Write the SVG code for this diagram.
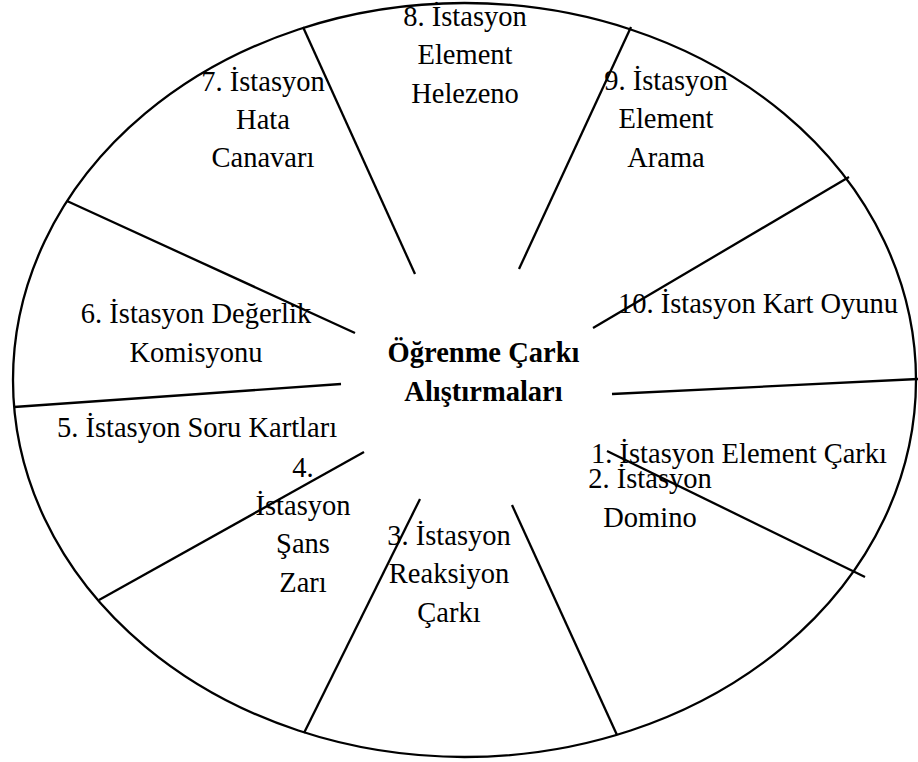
<svg xmlns="http://www.w3.org/2000/svg" width="918" height="762" viewBox="0 0 918 762">
<style>
.t{font-family:"Liberation Serif","Times New Roman",serif;font-size:28.5px;fill:#000;text-anchor:middle}
.b{font-weight:bold}
.ln{stroke:#000;stroke-width:2.3;fill:none;stroke-linecap:butt}
</style>
<rect width="918" height="762" fill="#fff"/>
<g id="wheel">
<ellipse class="ln" cx="464.5" cy="380" rx="451.5" ry="377"/>
</g>
<g id="connectors">
<line class="ln" x1="303" y1="27" x2="415" y2="274"/>
<line class="ln" x1="631" y1="27" x2="519" y2="269"/>
<line class="ln" x1="849" y1="177" x2="593" y2="328"/>
<line class="ln" x1="918" y1="379" x2="612" y2="394"/>
<line class="ln" x1="607" y1="451" x2="865" y2="577"/>
<line class="ln" x1="512" y1="505" x2="617" y2="735"/>
<line class="ln" x1="420" y1="499" x2="304" y2="733"/>
<line class="ln" x1="364" y1="452" x2="99" y2="600"/>
<line class="ln" x1="341" y1="384" x2="14" y2="407"/>
<line class="ln" x1="355" y1="333" x2="67" y2="201"/>
</g>
<g id="center">
<text class="t b" x="483.5" y="362">Öğrenme Çarkı</text>
<text class="t b" x="483.5" y="401">Alıştırmaları</text>
</g>
<g id="station-1">
<text class="t" x="739" y="463">1. İstasyon Element Çarkı</text>
</g>
<g id="station-2">
<text class="t" x="650" y="488">2. İstasyon</text>
<text class="t" x="650" y="527">Domino</text>
</g>
<g id="station-3">
<text class="t" x="449" y="545">3. İstasyon</text>
<text class="t" x="449" y="583">Reaksiyon</text>
<text class="t" x="449" y="622">Çarkı</text>
</g>
<g id="station-4">
<text class="t" x="303" y="477">4.</text>
<text class="t" x="303" y="515">İstasyon</text>
<text class="t" x="303" y="553">Şans</text>
<text class="t" x="303" y="592">Zarı</text>
</g>
<g id="station-5">
<text class="t" x="197" y="437">5. İstasyon Soru Kartları</text>
</g>
<g id="station-6">
<text class="t" x="196" y="323">6. İstasyon Değerlik</text>
<text class="t" x="196" y="362">Komisyonu</text>
</g>
<g id="station-7">
<text class="t" x="263" y="91">7. İstasyon</text>
<text class="t" x="263" y="129">Hata</text>
<text class="t" x="263" y="167">Canavarı</text>
</g>
<g id="station-8">
<text class="t" x="465" y="26">8. İstasyon</text>
<text class="t" x="465" y="64">Element</text>
<text class="t" x="465" y="103">Helezeno</text>
</g>
<g id="station-9">
<text class="t" x="666" y="90">9. İstasyon</text>
<text class="t" x="666" y="128">Element</text>
<text class="t" x="666" y="167">Arama</text>
</g>
<g id="station-10">
<text class="t" x="758" y="313">10. İstasyon Kart Oyunu</text>
</g>
</svg>
